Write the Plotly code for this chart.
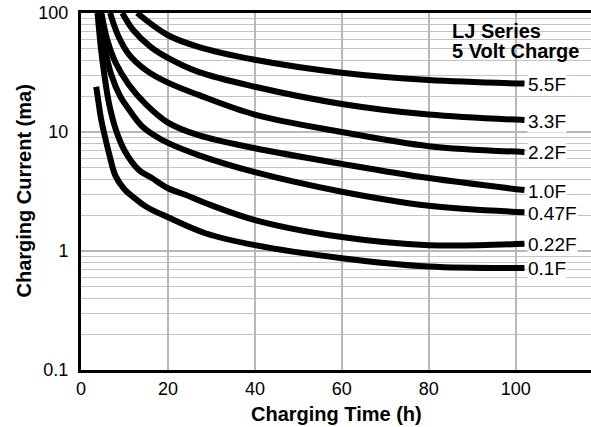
import math
import plotly.graph_objects as go

# Charging time (h) and charging current (mA) per capacitance
x_5_5 = [12.9, 20, 27, 40, 60, 80, 102]
y_5_5 = [100, 65, 52, 40.5, 31.5, 27.3, 25.5]

x_3_3 = [9.5, 12, 16, 20, 27, 40, 60, 80, 102]
y_3_3 = [100, 72, 52, 42, 32, 24, 17.2, 14.0, 12.6]

x_2_2 = [6.7, 8.5, 11, 15, 20, 27, 40, 60, 80, 102]
y_2_2 = [100, 65, 45, 33, 26, 20.5, 14, 10, 7.6, 6.8]

x_1_0 = [4.7, 6, 8, 11, 15, 20, 27, 40, 60, 80, 102]
y_1_0 = [100, 60, 38, 25, 17, 12.0, 9.4, 7.3, 5.4, 4.1, 3.25]

x_0_47 = [4.2, 5.5, 7, 9, 11, 14, 17, 20, 27, 40, 60, 80, 102]
y_0_47 = [100, 50, 30, 20, 15.5, 11.2, 9.3, 8.1, 6.4, 4.6, 3.15, 2.4, 2.12]

x_0_22 = [3.8, 4.6, 5.5, 6.5, 8, 10, 13.3, 16.3, 20, 24, 28.6, 40, 60, 80, 102]
y_0_22 = [100, 50, 28, 17, 10.5, 7, 4.8, 4.1, 3.37, 2.97, 2.53, 1.82, 1.31, 1.12, 1.15]

x_0_1 = [3.5, 4.0, 4.6, 5.4, 6.5, 7.9, 10, 12.5, 15.2, 20, 28.6, 40, 60, 80, 102]
y_0_1 = [24, 18, 13, 9.5, 6.5, 4.3, 3.3, 2.75, 2.33, 1.92, 1.41, 1.12, 0.87, 0.74, 0.72]

series = [
    ("5.5F", x_5_5, y_5_5),
    ("3.3F", x_3_3, y_3_3),
    ("2.2F", x_2_2, y_2_2),
    ("1.0F", x_1_0, y_1_0),
    ("0.47F", x_0_47, y_0_47),
    ("0.22F", x_0_22, y_0_22),
    ("0.1F", x_0_1, y_0_1),
]

x_ticks = [0, 20, 40, 60, 80, 100]
y_ticks = [0.1, 1, 10, 100]
y_tick_text = ["0.1", "1", "10", "100"]

FONT = "Liberation Sans, Arial, Helvetica, sans-serif"

ML, MT, PW, PH = 81, 13, 510, 357


def px_x(sx):
    return (sx - ML) / PW


def px_y(sy):
    return 1 - (sy - MT) / PH


fig = go.Figure()
for name, xs, ys in series:
    fig.add_trace(go.Scatter(
        x=xs, y=ys, mode="lines", name=name,
        line=dict(color="black", width=6, shape="spline", smoothing=1.0),
        showlegend=False, hoverinfo="skip",
    ))
    fig.add_annotation(
        x=102.6, y=math.log10(ys[-1]), yref="y", xref="x", text=name, showarrow=False,
        xanchor="left", yanchor="middle", yshift=-1,
        font=dict(family=FONT, size=19, color="black"),
        bgcolor="white", borderpad=0,
    )

# white panel behind the title box
fig.add_shape(
    type="rect", xref="paper", yref="paper",
    x0=px_x(443), x1=px_x(592), y0=px_y(62), y1=px_y(18),
    fillcolor="white", line=dict(width=0), layer="between",
)
for txt, ypx in [("LJ Series", 31), ("5 Volt Charge", 51)]:
    fig.add_annotation(
        xref="paper", yref="paper", x=px_x(450), y=px_y(ypx),
        xanchor="left", yanchor="middle", text="<b>%s</b>" % txt, align="left",
        showarrow=False, font=dict(family=FONT, size=20, color="black"),
    )

# Axis titles
fig.add_annotation(
    xref="paper", yref="paper", x=0.5, y=px_y(414), xanchor="center",
    yanchor="middle", text="<b>Charging Time (h)</b>", showarrow=False,
    font=dict(family=FONT, size=20, color="black"),
)
fig.add_annotation(
    xref="paper", yref="paper", x=px_x(23), y=0.5, xanchor="center",
    yanchor="middle", text="<b>Charging Current (ma)</b>", showarrow=False,
    textangle=-90, font=dict(family=FONT, size=20, color="black"),
)

fig.update_layout(
    width=591, height=427,
    margin=dict(l=ML, r=591 - ML - PW, t=MT, b=427 - MT - PH, autoexpand=False),
    paper_bgcolor="white", plot_bgcolor="white",
    font=dict(family=FONT, size=18, color="black"),
)
fig.update_xaxes(
    range=[0, 117.3], tickvals=x_ticks, ticks="", showline=True, linecolor="black",
    linewidth=3, mirror=True, showgrid=True, gridcolor="#b8b8b8", gridwidth=1.5,
    zeroline=False, tickfont=dict(size=18), automargin=False,
    ticklabeloverflow="allow",
)
fig.update_yaxes(
    type="log", range=[-1, 2], tickvals=y_ticks, ticktext=y_tick_text, ticks="",
    showline=True, linecolor="black", linewidth=3, mirror=False,
    showgrid=True, gridcolor="#b8b8b8", gridwidth=1.5, zeroline=False,
    minor=dict(showgrid=True, gridcolor="#c4c4c4", gridwidth=1.3, dtick="D1"),
    tickfont=dict(size=18), ticklabelstandoff=6, automargin=False,
    ticklabeloverflow="allow",
)

fig.write_html(
    "out.html",
    config={"displayModeBar": False, "staticPlot": True},
    post_script="document.body.style.margin='0';",
)
